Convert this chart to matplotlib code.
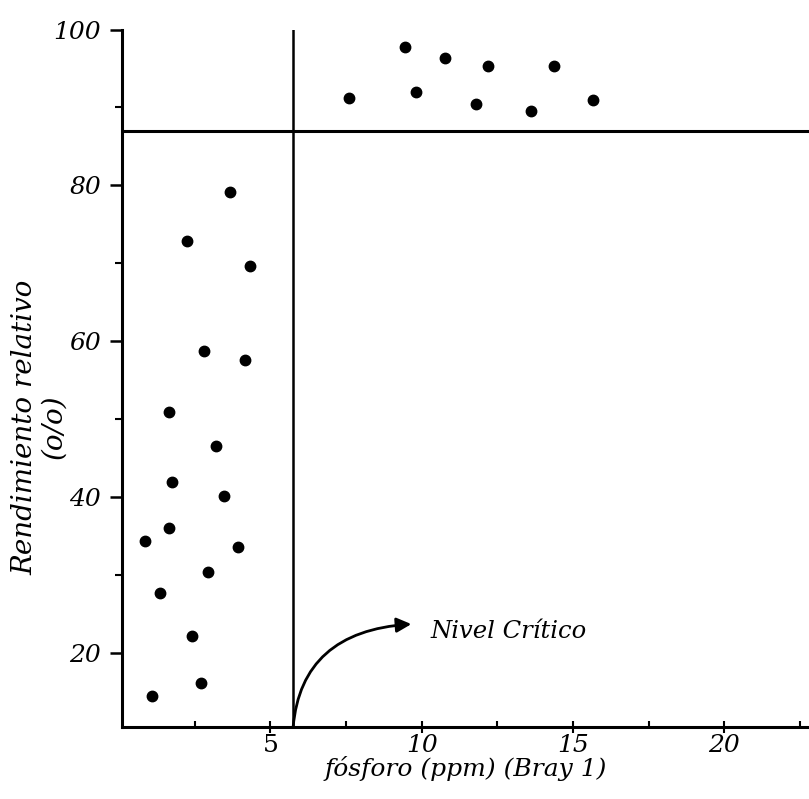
import numpy as np
import matplotlib.pyplot as plt
from matplotlib import ticker

# puntos debajo del nivel critico
xBajo = [3.68, 2.25, 4.34, 2.81, 4.17, 1.66, 3.21, 1.75, 3.48, 1.66, 0.86,
         3.94, 2.95, 1.36, 2.42, 2.72, 1.09]
yBajo = [79.1, 72.9, 69.7, 58.7, 57.6, 50.9, 46.6, 42.0, 40.2, 36.0, 34.4,
         33.6, 30.4, 27.7, 22.2, 16.2, 14.5]
# puntos arriba del nivel critico
xAlto = [7.61, 9.45, 9.81, 10.78, 12.19, 11.80, 14.36, 13.62, 15.66]
yAlto = [91.2, 97.7, 92.0, 96.3, 95.3, 90.4, 95.3, 89.5, 91.0]

nivelX = 5.75
nivelY = 87.0
yTicks = [20, 40, 60, 80, 100]
xTicks = [5, 10, 15, 20]

plt.rcParams['font.family'] = 'DejaVu Serif'
fig = plt.figure(figsize=(8.09, 7.99), dpi=100)
ax = fig.add_axes([0.151, 0.09, 0.849, 0.873])

ax.plot(xBajo, yBajo, 'o', color='black', markersize=7.5)
ax.plot(xAlto, yAlto, 'o', color='black', markersize=7.5)
ax.axvline(nivelX, color='black', linewidth=1.8)
ax.axhline(nivelY, color='black', linewidth=2.2)

ax.set_xlim(0.1, 22.8)
ax.set_ylim(10.5, 100)
ax.spines['top'].set_visible(False)
ax.spines['right'].set_visible(False)
ax.spines['left'].set_linewidth(2.2)
ax.spines['bottom'].set_linewidth(2.2)

ax.set_xticks(xTicks)
ax.set_yticks(yTicks)
ax.xaxis.set_minor_locator(ticker.MultipleLocator(2.5))
ax.yaxis.set_minor_locator(ticker.MultipleLocator(10))
ax.tick_params(axis='y', which='major', length=9, width=1.8, pad=6,
               labelsize=18)
ax.tick_params(axis='y', which='minor', length=5, width=1.5)
ax.tick_params(axis='x', which='major', direction='inout', length=8,
               width=1.5, pad=1, labelsize=18)
ax.tick_params(axis='x', which='minor', direction='in', length=4, width=1.5)
for lab in ax.get_xticklabels() + ax.get_yticklabels():
    lab.set_fontstyle('italic')
# el 5 aparece derecho en el original
ax.get_xticklabels()[0].set_fontstyle('normal')

ax.set_xlabel('fósforo (ppm) (Bray 1)', fontsize=18, style='italic')
ax.xaxis.set_label_coords(0.5, -0.042)
ax.set_ylabel('Rendimiento relativo\n(o/o)', fontsize=20, style='italic',
              linespacing=1.1)
ax.yaxis.set_label_coords(-0.08, 0.43)

ax.annotate('Nivel Crítico', xy=(nivelX, 10.5), xytext=(10.3, 22.8),
            fontsize=17.5, style='italic', va='center',
            arrowprops=dict(arrowstyle='<|-', color='black', lw=2,
                            mutation_scale=22, shrinkA=12, shrinkB=0,
                            connectionstyle='angle3,angleA=170,angleB=85'))

fig.savefig('out.png', dpi=100)
